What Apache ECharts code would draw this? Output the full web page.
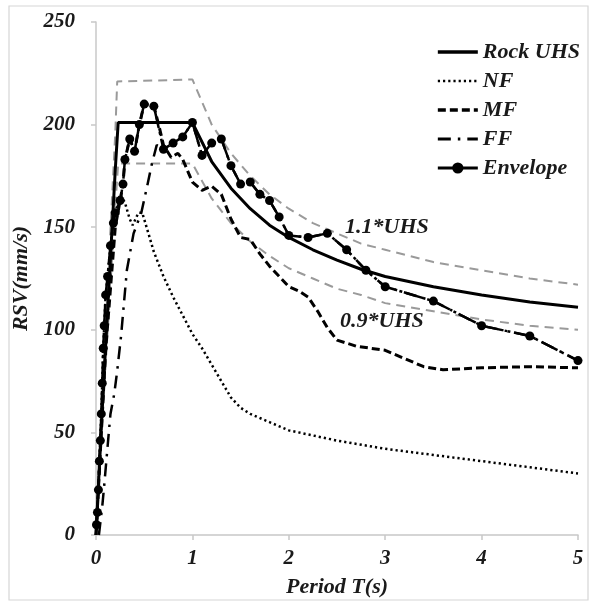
<!DOCTYPE html>
<html>
<head>
<meta charset="utf-8">
<script src="https://cdn.jsdelivr.net/npm/echarts@6/dist/echarts.min.js"></script>
<style>
  html, body { margin: 0; padding: 0; background: #fff; }
  #chart { width: 591px; height: 608px; }
</style>
</head>
<body>
<div id="chart"></div>
<script>
// periods (s) and RSV values (mm/s)
var uhsT = [0, 0.05, 0.1, 0.15, 0.2, 0.23, 1.0, 1.2, 1.4, 1.6, 1.8, 2.0, 2.25, 2.5, 2.75, 3.0, 3.5, 4.0, 4.5, 5.0]
var uhsV = [0, 48, 92, 135, 178, 201, 201, 182, 169, 159, 151, 145, 139, 134, 129.5, 126, 121, 117, 113.5, 111]

var upT = [0, 0.05, 0.1, 0.15, 0.2, 0.22, 1.0, 1.2, 1.4, 1.6, 1.8, 2.0, 2.25, 2.5, 2.75, 3.0, 3.5, 4.0, 4.5, 5.0]
var upV = [0, 53, 101, 149, 196, 221, 222, 200, 186, 175, 166, 159, 152, 147, 142, 139, 133, 129, 125, 122]

var lowT = [0, 0.05, 0.1, 0.15, 0.2, 0.23, 1.0, 1.2, 1.4, 1.6, 1.8, 2.0, 2.25, 2.5, 2.75, 3.0, 3.5, 4.0, 4.5, 5.0]
var lowV = [0, 43, 83, 122, 160, 181, 181, 164, 152, 143, 136, 130, 125, 120, 117, 113, 109, 105, 102, 100]

var nfT = [0, 0.015, 0.035, 0.055, 0.075, 0.1, 0.12, 0.15, 0.18, 0.2, 0.25, 0.3, 0.35, 0.38, 0.44, 0.48, 0.55, 0.6, 0.7, 0.8, 0.9, 1.0, 1.1, 1.2, 1.3, 1.4, 1.5, 1.6, 1.8, 2.0, 2.5, 3.0, 3.5, 4.0, 4.5, 5.0]
var nfV = [0, 11, 36, 59, 91, 117, 126, 141, 152, 157, 166, 162, 154, 151, 157, 157, 146, 138, 126, 116, 107, 98, 91, 83, 75, 67, 62, 59, 55, 51, 46, 42, 39, 36, 33, 30]

var mfT = [0, 0.1, 0.2, 0.25, 0.28, 0.3, 0.35, 0.4, 0.45, 0.5, 0.6, 0.65, 0.7, 0.78, 0.85, 0.9, 1.0, 1.1, 1.2, 1.3, 1.4, 1.5, 1.6, 1.7, 1.8, 2.0, 2.1, 2.2, 2.3, 2.4, 2.5, 2.7, 3.0, 3.2, 3.4, 3.6, 4.0, 4.5, 5.0]
var mfV = [0, 90, 150, 163, 171, 183, 193, 187, 200, 210, 209, 200, 190, 184, 186, 183, 172, 168, 170, 166, 154, 145, 144, 137, 131, 121, 119, 116, 109, 101, 95, 92, 90, 86, 82, 80.5, 81.5, 82, 81.5]

var ffT = [0.03, 0.065, 0.083, 0.12, 0.15, 0.19, 0.22, 0.26, 0.29, 0.32, 0.39, 0.47, 0.54, 0.58, 0.63, 0.7, 0.8, 0.9, 1.0, 1.1, 1.2, 1.3, 1.4, 1.5, 1.6, 1.7, 1.8, 1.9, 2.0, 2.2, 2.4, 2.6, 2.8, 3.0, 3.5, 4.0, 4.5, 5.0]
var ffV = [0, 14, 23, 43, 59, 69, 80, 97, 113, 129, 147, 157, 172, 181, 190, 188, 191, 194, 201, 185, 191, 193, 180, 171, 172, 166, 163, 155, 146, 145, 147, 139, 129, 121, 114, 102, 97, 85]

var envT = [0.005, 0.015, 0.025, 0.035, 0.045, 0.055, 0.065, 0.075, 0.085, 0.1, 0.12, 0.15, 0.18, 0.2, 0.25, 0.28, 0.3, 0.35, 0.4, 0.45, 0.5, 0.6, 0.7, 0.8, 0.9, 1.0, 1.1, 1.2, 1.3, 1.4, 1.5, 1.6, 1.7, 1.8, 1.9, 2.0, 2.2, 2.4, 2.6, 2.8, 3.0, 3.5, 4.0, 4.5, 5.0]
var envV = [5, 11, 22, 36, 46, 59, 74, 91, 102, 117, 126, 141, 152, 157, 163, 171, 183, 193, 187, 200, 210, 209, 188, 191, 194, 201, 185, 191, 193, 180, 171, 172, 166, 163, 155, 146, 145, 147, 139, 129, 121, 114, 102, 97, 85]

var xTicks = [0, 1, 2, 3, 4, 5]
var yTicks = [0, 50, 100, 150, 200, 250]

function pairs(t, v) {
  return t.map(function (x, i) { return [x, v[i]] })
}

var font = 'Liberation Serif'
var ink = '#1a1a1a'
var txt = { fontFamily: font, fontStyle: 'italic', fontWeight: 'bold', color: ink }
var noDot = { color: 'rgba(0,0,0,0)', borderWidth: 0 }

var chart = echarts.init(document.getElementById('chart'))

chart.setOption({
  animation: false,
  backgroundColor: '#fff',
  grid: { left: 96, right: 13, top: 22, bottom: 73, containLabel: false },
  legend: {
    orient: 'vertical',
    right: 6,
    top: 36,
    itemWidth: 40,
    itemHeight: 14,
    itemGap: 7,
    textStyle: Object.assign({ fontSize: 22 }, txt),
    data: [
      { name: 'Rock UHS', itemStyle: noDot, lineStyle: { width: 3.5 } },
      { name: 'NF', itemStyle: noDot, lineStyle: { width: 2.5 } },
      { name: 'MF', itemStyle: noDot, lineStyle: { width: 3.5 } },
      { name: 'FF', itemStyle: noDot, lineStyle: { width: 3 } },
      { name: 'Envelope', lineStyle: { type: 'solid', width: 3 } }
    ]
  },
  xAxis: {
    type: 'value',
    min: 0,
    max: 5,
    interval: 1,
    name: 'Period T(s)',
    nameLocation: 'middle',
    nameGap: 41,
    nameTextStyle: Object.assign({ fontSize: 22 }, txt),
    axisLine: { lineStyle: { color: '#c8c8c8', width: 1.5 } },
    axisTick: { show: true, length: 5, lineStyle: { color: '#c8c8c8', width: 1.5 } },
    axisLabel: Object.assign({ fontSize: 21, margin: 13, formatter: function (v) {
      return xTicks.indexOf(v) >= 0 ? String(v) : ''
    } }, txt),
    splitLine: { show: false }
  },
  yAxis: {
    type: 'value',
    min: 0,
    max: 250,
    interval: 50,
    name: 'RSV(mm/s)',
    nameLocation: 'middle',
    nameGap: 57,
    nameRotate: 90,
    nameTextStyle: Object.assign({ fontSize: 22 }, txt),
    axisLine: { show: true, lineStyle: { color: '#c8c8c8', width: 1.5 } },
    axisTick: { show: true, length: 5, lineStyle: { color: '#c8c8c8', width: 1.5 } },
    axisLabel: Object.assign({ fontSize: 21, margin: 21, formatter: function (v) {
      return yTicks.indexOf(v) >= 0 ? String(v) : ''
    } }, txt),
    splitLine: { show: false }
  },
  graphic: [
    {
      type: 'rect',
      shape: { x: 9, y: 6, width: 579, height: 594 },
      style: { fill: 'none', stroke: '#d6d6d6', lineWidth: 1.2 },
      silent: true
    },
    {
      type: 'text', left: 345, top: 216,
      style: { text: '1.1*UHS', font: 'italic bold 22px "Liberation Serif"', fill: ink }
    },
    {
      type: 'text', left: 340, top: 310,
      style: { text: '0.9*UHS', font: 'italic bold 22px "Liberation Serif"', fill: ink }
    }
  ],
  series: [
    {
      name: '1.1*UHS', type: 'line', symbol: 'none', z: 1,
      data: pairs(upT, upV),
      lineStyle: { color: '#9a9a9a', width: 2, type: [9, 6] }
    },
    {
      name: '0.9*UHS', type: 'line', symbol: 'none', z: 1,
      data: pairs(lowT, lowV),
      lineStyle: { color: '#9a9a9a', width: 2, type: [9, 6] }
    },
    {
      name: 'Rock UHS', type: 'line', symbol: 'none', z: 3,
      data: pairs(uhsT, uhsV),
      itemStyle: { color: '#000' },
      lineStyle: { color: '#000', width: 3 }
    },
    {
      name: 'NF', type: 'line', symbol: 'none', z: 3,
      data: pairs(nfT, nfV),
      itemStyle: { color: '#000' },
      lineStyle: { color: '#000', width: 2.5, type: [2.2, 3] }
    },
    {
      name: 'MF', type: 'line', symbol: 'none', z: 3,
      data: pairs(mfT, mfV),
      itemStyle: { color: '#000' },
      lineStyle: { color: '#000', width: 3, type: [8, 4] }
    },
    {
      name: 'FF', type: 'line', symbol: 'none', z: 3,
      data: pairs(ffT, ffV),
      itemStyle: { color: '#000' },
      lineStyle: { color: '#000', width: 2.5, type: [13, 7, 2.5, 7] }
    },
    {
      name: 'Envelope', type: 'line', symbol: 'circle', symbolSize: 9, z: 4,
      data: pairs(envT, envV),
      itemStyle: { color: '#000' },
      lineStyle: { color: '#000', width: 2.5, type: [18, 4, 3, 4] }
    }
  ]
})
</script>
</body>
</html>
